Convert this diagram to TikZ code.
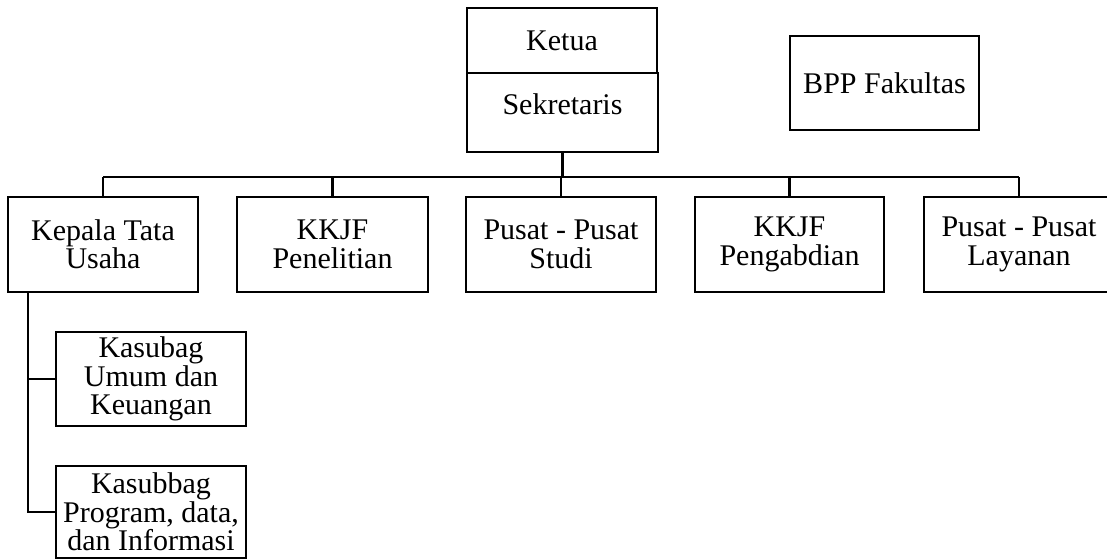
\documentclass[tikz,border=0pt]{standalone}
\usepackage{fontspec}
\setmainfont{Liberation Serif}
\begin{document}
\begin{tikzpicture}[x=0.5pt,y=-0.5pt,
  box/.style={draw, line width=1.2pt, inner sep=0pt, align=center,
    font=\fontsize{15}{14.2}\selectfont},
  lbl/.style={inner sep=0pt, align=center, font=\fontsize{15}{14.2}\selectfont},
  wire/.style={line width=1.2pt}]
\useasboundingbox (0,0) rectangle (1107,560);
\clip (0,0) rectangle (1107,560);
% top
\node[box, minimum width=95pt, minimum height=32.5pt] (ketua) at (562,40.5) {Ketua};
\node[box, minimum width=95.5pt, minimum height=39.5pt] (sek) at (562.5,112.5) {};
\node[lbl] (sektext) at (562.5,104) {Sekretaris};
\node[box, minimum width=94.5pt, minimum height=47pt] (bpp) at (884.5,83) {BPP Fakultas};
% second level
\node[box, minimum width=95pt, minimum height=47.5pt] (kepala) at (103,244.5) {Kepala Tata\\Usaha};
\node[box, minimum width=95.5pt, minimum height=47.5pt] (kkjfp) at (332.5,244.5) {KKJF\\Penelitian};
\node[box, minimum width=95pt, minimum height=47.5pt] (studi) at (561,244.5) {Pusat - Pusat\\Studi};
\node[box, minimum width=94.5pt, minimum height=47.5pt] (pengab) at (789.5,244.5) {KKJF\\Pengabdian};
\node[box, minimum width=95pt, minimum height=47.5pt] (layanan) at (1019,244.5) {Pusat - Pusat\\Layanan};
% third level
\node[box, minimum width=95pt, minimum height=47pt] (kasubag) at (151,379) {Kasubag\\Umum dan\\Keuangan};
\node[box, minimum width=95pt, minimum height=46pt] (kasubbag) at (151,512) {Kasubbag\\Program, data,\\dan Informasi};
% connectors
\coordinate (busL) at (103,177);
\coordinate (busR) at (1019,177);
\coordinate (bj) at (sek.south |- busL);
\draw[wire] (busL) -- (busR);
\draw[wire] (sek.south) -- (bj);
\foreach \n in {kepala,kkjfp,studi,pengab,layanan}
  \draw[wire] (\n.north) -- (\n.north |- busL);
\coordinate (kv) at (28,292);
\draw[wire] (kv) |- (kasubbag.west);
\draw[wire] (kv |- kasubag.west) -- (kasubag.west);
\end{tikzpicture}
\end{document}
